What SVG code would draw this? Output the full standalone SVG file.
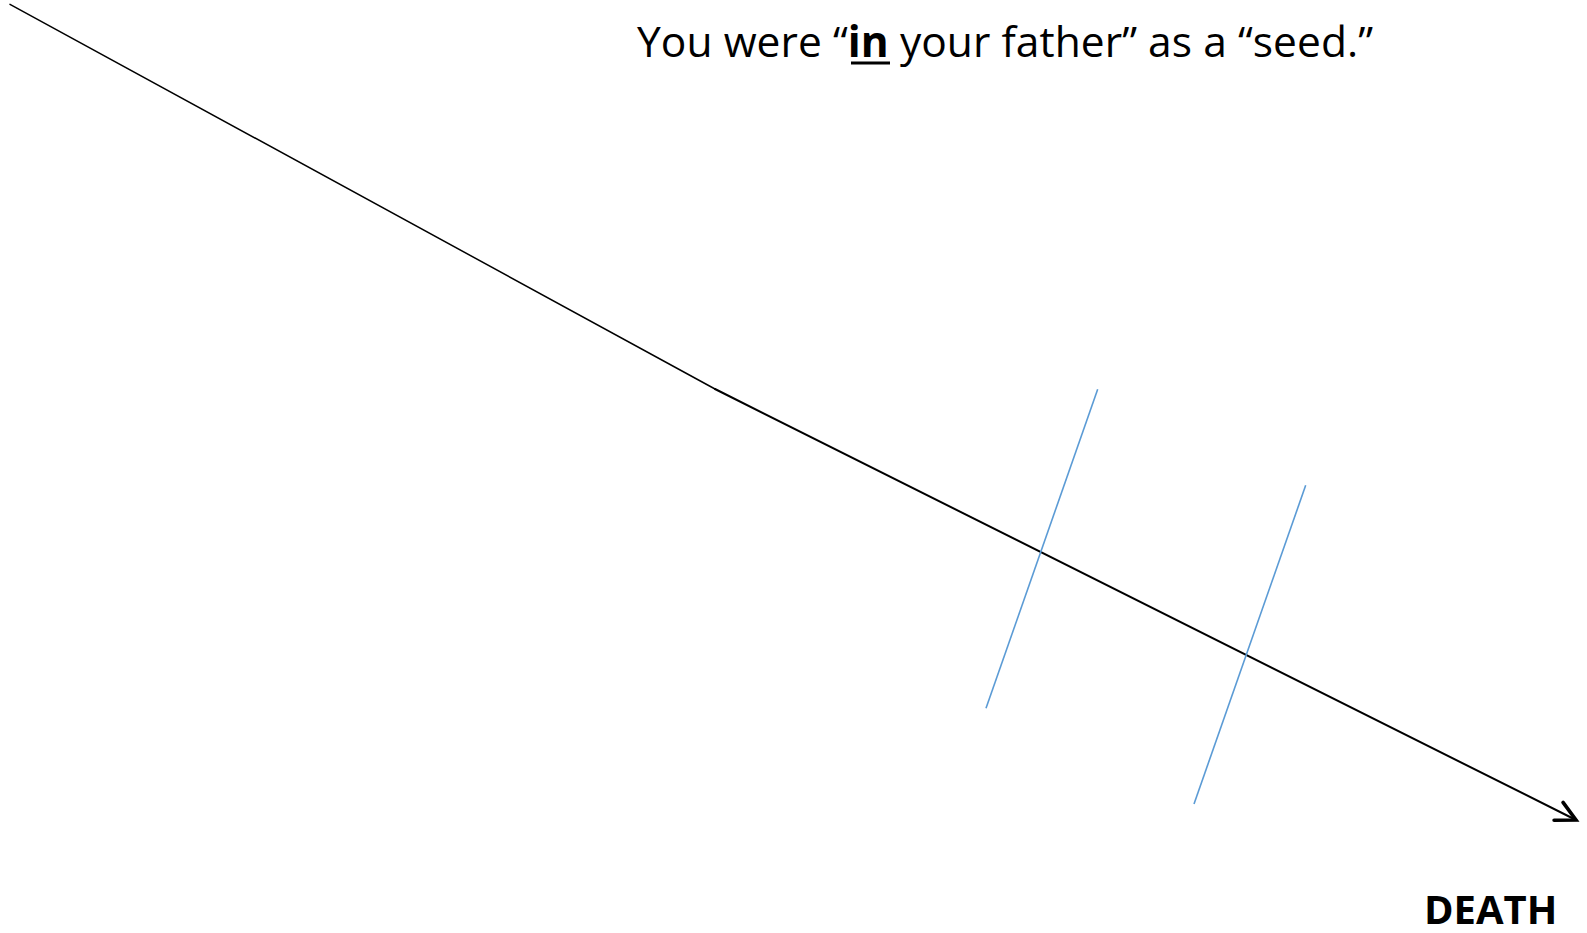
<svg xmlns="http://www.w3.org/2000/svg" width="1587" height="933" viewBox="0 0 1587 933">
  <style>
    .txt { font-family: "Open Sans", "Liberation Sans", sans-serif; fill: #000; }
    .main { fill: none; stroke: #000; stroke-linecap: round; }
    .tick { fill: none; stroke: #5B9BD5; stroke-width: 1.6; }
  </style>
  <defs>
    <marker id="arrow" markerUnits="userSpaceOnUse" markerWidth="30" markerHeight="30" viewBox="-25 -15 30 30" refX="0" refY="0" orient="auto" overflow="visible">
      <path d="M -19.5,-10 L 0,0 L -19.5,10" fill="none" stroke="#000" stroke-width="3.6" stroke-linecap="round" stroke-linejoin="miter"/>
    </marker>
  </defs>
  <rect width="1587" height="933" fill="#fff"/>

  <g id="connectors">
    <path class="main" d="M 10,4.3 L 715,389" stroke-width="1.5"/>
    <path class="main" d="M 715,389 L 1576,820" stroke-width="2" marker-end="url(#arrow)"/>
    <line class="tick" x1="1097.7" y1="389.3" x2="986" y2="708.3"/>
    <line class="tick" x1="1305.7" y1="485.3" x2="1194" y2="804"/>
  </g>

  <g id="caption">
    <text class="txt" x="637" y="56.5" font-size="42.5" textLength="736">You were “<tspan font-weight="bold">in</tspan> your father” as a “seed.”</text>
    <line x1="851" y1="63" x2="890" y2="63" stroke="#000" stroke-width="3"/>
  </g>

  <g id="death">
    <text class="txt" x="1424" y="924" font-size="40" font-weight="bold">DEATH</text>
  </g>
</svg>
